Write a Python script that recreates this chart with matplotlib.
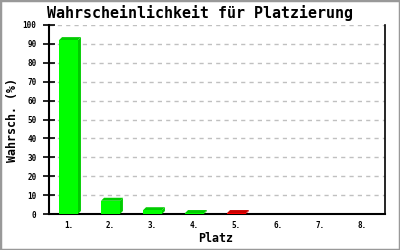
import matplotlib
matplotlib.use("Agg")
import matplotlib.pyplot as plt
from matplotlib.patches import Polygon, Rectangle
import numpy as np

categories = ["1.", "2.", "3.", "4.", "5.", "6.", "7.", "8."]
values = [92, 7, 2, 0.5, 0.5, 0, 0, 0]
front_colors = ["#00ff00", "#00ff00", "#00ff00", "#00ff00", "#ff0000", "#00ff00", "#00ff00", "#00ff00"]
side_colors = ["#00cc00", "#00cc00", "#00cc00", "#00cc00", "#cc0000", "#00cc00", "#00cc00", "#00cc00"]
yticks = list(range(0, 101, 10))

W, H = 400, 250
fig = plt.figure(figsize=(4, 2.5), dpi=100)
fig.patch.set_facecolor("white")
ax = fig.add_axes([49 / W, 1 - 214 / H, (385 - 49) / W, (214 - 25) / H])

# frame border
fig.patches.append(Rectangle((0, 0), 1, 1, transform=fig.transFigure, fill=False,
                             edgecolor="#999999", linewidth=2.5, zorder=10))

mono = "DejaVu Sans Mono"
x = np.arange(len(categories))
bw = 0.45
ax.set_xlim(-0.464, 7.536)
ax.set_ylim(0, 100)

# depth in data units (3 px right, 3 px up)
dx = 3 / 42
dy = 3 * 100 / 189

for xi, v, fc, sc in zip(x, values, front_colors, side_colors):
    if v <= 0:
        continue
    x0, x1 = xi - bw / 2, xi + bw / 2
    top = Polygon([(x0, v), (x1, v), (x1 + dx, v + dy), (x0 + dx, v + dy)],
                  closed=True, facecolor=sc, edgecolor="none", zorder=3)
    side = Polygon([(x1, 0), (x1 + dx, dy), (x1 + dx, v + dy), (x1, v)],
                   closed=True, facecolor=sc, edgecolor="none", zorder=3)
    ax.add_patch(side)
    ax.add_patch(top)
ax.bar(x, values, width=bw, color=front_colors, edgecolor="none", zorder=4)

ax.set_yticks(yticks)
ax.set_xticks(x)
ax.set_xticklabels(categories)
ax.yaxis.grid(True, color="#c0c0c0", linestyle=(0, (3, 3)), linewidth=1)
ax.set_axisbelow(True)

for lab in ax.get_xticklabels() + ax.get_yticklabels():
    lab.set_fontfamily(mono)
    lab.set_fontsize(5.5)
    lab.set_fontweight("bold")
ax.tick_params(axis="y", direction="inout", length=8, width=1.2, pad=5)
ax.tick_params(axis="x", length=0, pad=5)

ax.spines["top"].set_visible(False)
ax.spines["left"].set_linewidth(1.5)
ax.spines["bottom"].set_linewidth(1.5)
ax.spines["right"].set_linewidth(1.2)

fig.text(47 / W, 1 - 17.5 / H, "Wahrscheinlichkeit für Platzierung", fontfamily=mono,
         fontweight="bold", fontsize=10.8, ha="left", va="baseline")
fig.text(12.5 / W, 1 - 120 / H, "Wahrsch. (%)", fontfamily=mono, fontweight="bold",
         fontsize=8.4, rotation=90, ha="center", va="center")
fig.text(216 / W, 1 - 239 / H, "Platz", fontfamily=mono, fontweight="bold",
         fontsize=8.4, ha="center", va="center")

fig.savefig("out.png", dpi=100)
